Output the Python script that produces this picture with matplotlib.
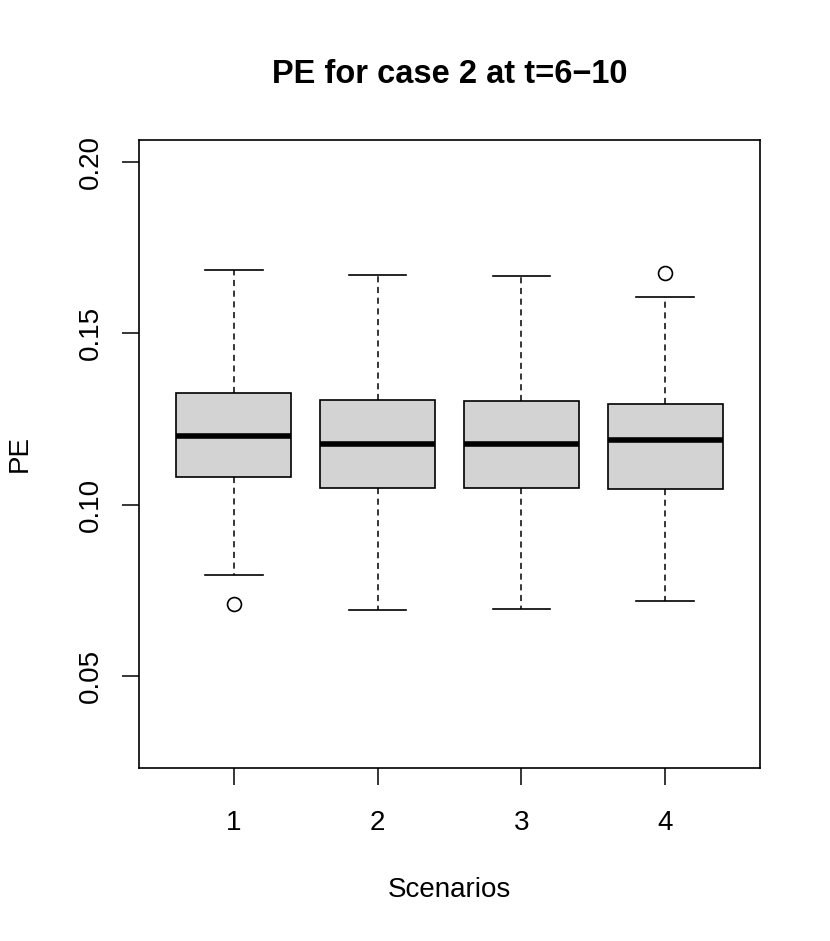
import matplotlib
matplotlib.use('Agg')
import matplotlib.pyplot as plt

plt.rcParams['font.family'] = ['Liberation Sans', 'DejaVu Sans']

# box statistics
scenarios = ['1', '2', '3', '4']
whislo = [0.0795, 0.0693, 0.0696, 0.0719]
q1 = [0.1081, 0.1049, 0.1049, 0.1046]
med = [0.1200, 0.1177, 0.1177, 0.1189]
q3 = [0.1326, 0.1305, 0.1303, 0.1294]
whishi = [0.1685, 0.1670, 0.1667, 0.1606]
fliers = [[0.0710], [], [], [0.1676]]

stats = []
for i in range(len(scenarios)):
    stats.append(dict(label=scenarios[i], whislo=whislo[i], q1=q1[i], med=med[i],
                      q3=q3[i], whishi=whishi[i], fliers=fliers[i]))

fig = plt.figure(figsize=(8.3, 9.41), dpi=100)
ax = fig.add_axes([0.1675, 0.1839, 0.7482, 0.6673])

ax.bxp(stats, positions=[1, 2, 3, 4], widths=0.8, patch_artist=True,
       boxprops=dict(facecolor='#d3d3d3', edgecolor='black', linewidth=1.2),
       medianprops=dict(color='black', linewidth=4, solid_capstyle='butt'),
       whiskerprops=dict(color='black', linewidth=1.1, linestyle=(0, (4, 3))),
       capprops=dict(color='black', linewidth=1.2),
       capwidths=0.4,
       flierprops=dict(marker='o', markersize=10, markerfacecolor='none',
                       markeredgecolor='black', markeredgewidth=1.2))

ax.set_xlim(0.34, 4.66)
ax.set_ylim(0.0232, 0.2064)
ax.set_yticks([0.05, 0.10, 0.15, 0.20])
ax.set_yticklabels(['0.05', '0.10', '0.15', '0.20'], rotation=90, va='center')
ax.set_xticks([1, 2, 3, 4])
ax.set_xticklabels(scenarios)
ax.tick_params(direction='out', length=12.5, width=1.1, labelsize=20)
ax.tick_params(axis='x', pad=18)
ax.tick_params(axis='y', pad=13)
for s in ax.spines.values():
    s.set_linewidth(1.2)

ax.set_title('PE for case 2 at t=6\u221210', fontsize=23.5, fontweight='bold', pad=41)
ax.set_xlabel('Scenarios', fontsize=20, labelpad=29)
ax.set_ylabel('PE', fontsize=20, labelpad=32)

fig.savefig('out.png', dpi=100)
